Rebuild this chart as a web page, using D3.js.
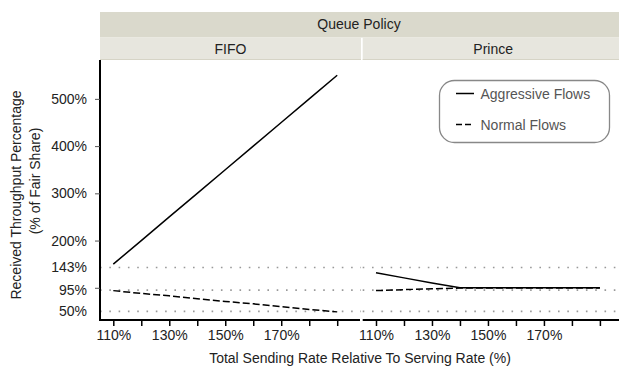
<!DOCTYPE html>
<html lang="en">
<head>
<meta charset="utf-8" />
<script src="https://d3js.org/d3.v7.min.js"></script>
<style>
  body { margin: 0; background: #fff; }
  text { font-family: "Liberation Sans", Arial, sans-serif; }
</style>
</head>
<body>
<script>
// sending rate (% of serving rate)
const rates = [110, 120, 130, 140, 150, 160, 170, 180, 190];
const policies = ["FIFO", "Prince"];

// received throughput (% of fair share)
const fifoAggressive = [150, 200, 250, 300, 350, 400, 450, 500, 550];
const fifoNormal = [94, 88, 83, 77, 71, 66, 60, 54, 49];
const princeAggressive = [132, 121, 110, 100, 100, 100, 100, 100, 100];
const princeNormal = [94, 96, 98, 99.5, 99.5, 99.5, 99.5, 99.5, 99.5];

const refLines = [143, 95, 50];
const yTicks = [100, 200, 300, 400, 500];
const yTickLabels = ["", "200%", "300%", "400%", "500%"];
const xTicks = [110, 120, 130, 140, 150, 160, 170, 180, 190];
const xTickLabels = ["110%", "", "130%", "", "150%", "", "170%", "", ""];
const seriesNames = ["Aggressive Flows", "Normal Flows"];

const w = 619, h = 368;
const panelTop = 60, panelBottom = 320;
const panelW = 261;
const panelX = [100, 362.7];

const svg = d3.select("body").append("svg")
    .attr("width", w)
    .attr("height", h);

const x = d3.scaleLinear().domain([105.25, 198.5]).range([0, panelW]);
const y = d3.scaleLinear().domain([31.8, 582.3]).range([panelBottom, panelTop]);

const data = {
    FIFO: [fifoAggressive, fifoNormal],
    Prince: [princeAggressive, princeNormal]
};

// strips
svg.append("rect")
    .attr("x", 100).attr("y", 12)
    .attr("width", 530).attr("height", 25.5)
    .attr("fill", "#dad9cc");
svg.append("text")
    .attr("x", 359).attr("y", 29)
    .attr("text-anchor", "middle")
    .style("font-size", "14px")
    .attr("fill", "#222")
    .text("Queue Policy");

const line = d3.line()
    .x((d, i) => x(rates[i]))
    .y(d => y(d));

policies.forEach((p, pi) => {
    const g = svg.append("g").attr("transform", `translate(${panelX[pi]},0)`);

    g.append("rect")
        .attr("x", 0).attr("y", 37.5)
        .attr("width", panelW).attr("height", 22.5)
        .attr("fill", "#e7e6de");
    g.append("line")
        .attr("x1", 0).attr("x2", panelW)
        .attr("y1", 59.5).attr("y2", 59.5)
        .attr("stroke", "#d6d4c6");
    g.append("text")
        .attr("x", panelW / 2).attr("y", 53.5)
        .attr("text-anchor", "middle")
        .style("font-size", "14px")
        .attr("fill", "#222")
        .text(p);

    // reference lines
    g.selectAll(".ref")
        .data(refLines)
        .enter()
        .append("line")
        .attr("x1", 0).attr("x2", panelW)
        .attr("y1", d => y(d)).attr("y2", d => y(d))
        .attr("stroke", "#999")
        .attr("stroke-width", 1.6)
        .attr("stroke-dasharray", "1.6,7.7");

    // x axis
    const xAxis = d3.axisBottom(x)
        .tickValues(xTicks)
        .tickSize(6)
        .tickFormat((d, i) => xTickLabels[i]);
    const ax = g.append("g")
        .attr("transform", `translate(0,${panelBottom})`)
        .call(xAxis);
    ax.select(".domain").attr("stroke-width", 2).attr("d", `M0,0H${panelW - 1}`);
    ax.selectAll(".tick line").attr("stroke-width", 1.5);
    ax.selectAll(".tick text")
        .attr("y", 10)
        .attr("dy", "0.71em")
        .style("font-size", "14px")
        .style("font-family", "Liberation Sans, Arial, sans-serif")
        .attr("fill", "#222");

    // series
    data[p].forEach((vals, si) => {
        g.append("path")
            .datum(vals)
            .attr("d", line)
            .attr("fill", "none")
            .attr("stroke", "#000")
            .attr("stroke-width", 1.5)
            .attr("stroke-dasharray", si === 1 ? "7,3" : null);
    });
});

// y axis
const yAxis = d3.axisLeft(y)
    .tickValues(yTicks)
    .tickSize(5)
    .tickFormat((d, i) => yTickLabels[i]);
const ay = svg.append("g")
    .attr("transform", `translate(${panelX[0]},0)`)
    .call(yAxis);
ay.select(".domain").attr("stroke-width", 2).attr("d", `M0,${panelTop}V${panelBottom + 1}`);
ay.selectAll(".tick line").attr("stroke", "#555");
ay.selectAll(".tick text")
    .attr("x", -13)
    .style("font-size", "14px")
    .style("font-family", "Liberation Sans, Arial, sans-serif")
    .attr("fill", "#222");

svg.selectAll(".reflabel")
    .data(refLines)
    .enter()
    .append("text")
    .attr("x", 87)
    .attr("y", d => y(d))
    .attr("dy", "0.32em")
    .attr("text-anchor", "end")
    .style("font-size", "14px")
    .attr("fill", "#222")
    .text(d => d + "%");

// axis titles
svg.append("text")
    .attr("x", 360).attr("y", 363)
    .attr("text-anchor", "middle")
    .style("font-size", "14px")
    .attr("fill", "#222")
    .text("Total Sending Rate Relative To Serving Rate (%)");

svg.append("text")
    .attr("transform", "translate(21,195) rotate(-90)")
    .attr("text-anchor", "middle")
    .style("font-size", "14px")
    .attr("fill", "#222")
    .text("Received Throughput Percentage");
svg.append("text")
    .attr("transform", "translate(40,181) rotate(-90)")
    .attr("text-anchor", "middle")
    .style("font-size", "14px")
    .attr("fill", "#222")
    .text("(% of Fair Share)");

// legend
const lg = svg.append("g");
lg.append("rect")
    .attr("x", 439.5).attr("y", 80.5)
    .attr("width", 170).attr("height", 62)
    .attr("rx", 15).attr("ry", 15)
    .attr("fill", "#fff")
    .attr("stroke", "#888")
    .attr("stroke-width", 1.3);
seriesNames.forEach((s, i) => {
    lg.append("line")
        .attr("x1", 456).attr("x2", 474)
        .attr("y1", 93.5 + i * 31).attr("y2", 93.5 + i * 31)
        .attr("stroke", "#000")
        .attr("stroke-width", 1.5)
        .attr("stroke-dasharray", i === 1 ? "6,3" : null);
    lg.append("text")
        .attr("x", 480.5).attr("y", 99 + i * 31)
        .style("font-size", "14px")
        .attr("fill", "#555")
        .text(s);
});
</script>
</body>
</html>
